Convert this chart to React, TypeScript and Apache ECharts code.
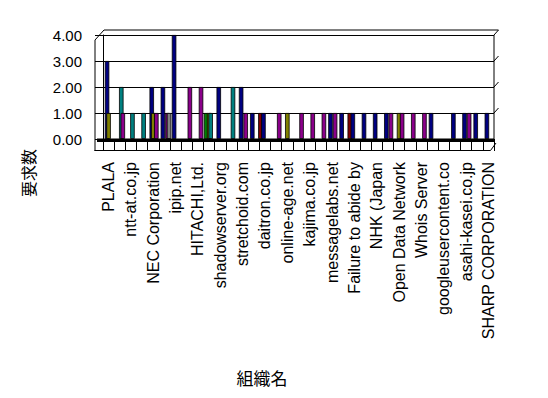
import React, { useEffect, useRef } from 'react';
import * as echarts from 'echarts';

const categories = [
  'PLALA', '', 'ntt-at.co.jp', '', 'NEC Corporation', '', 'ipip.net', '',
  'HITACHI,Ltd.', '', 'shadowserver.org', '', 'stretchoid.com', '', 'daitron.co.jp', '',
  'online-age.net', '', 'kajima.co.jp', '', 'messagelabs.net', '', 'Failure to abide by', '',
  'NHK (Japan', '', 'Open Data Network', '', 'Whois Server', '', 'googleusercontent.co', '',
  'asahi-kasei.co.jp', '', 'SHARP CORPORATION',
];

const yTicks = [0, 1, 2, 3, 4];

//             0    1    2    3    4    5    6    7    8    9   10   11   12   13   14   15   16   17   18   19   20   21   22   23   24   25   26   27   28   29   30   31   32   33   34
const seriesMaroon = [null, null, null, null, null, null, null, null, null, null, null, null, null, null, 1, null, null, null, null, null, null, null, 1, null, null, null, null, null, null, null, null, null, null, null, null];
const seriesGreen = [null, null, null, null, null, null, null, null, null, 1, null, null, null, null, null, null, null, null, null, null, null, null, null, null, null, null, null, null, null, null, null, null, null, null, null];
const seriesNavy = [3, null, null, null, 2, 2, 4, null, null, null, 2, null, 2, 1, 1, null, null, null, null, null, 1, 1, 1, 1, 1, 1, null, null, null, 1, null, 1, 1, 1, 1];
const seriesOlive = [1, null, null, null, 1, null, null, null, null, 1, null, null, null, null, null, null, 1, null, null, null, null, null, null, null, null, null, 1, null, null, null, null, null, null, null, null];
const seriesTeal = [null, 2, 1, 1, null, null, null, null, null, 1, null, 2, null, null, null, null, null, null, null, null, null, null, null, null, null, null, null, null, null, null, null, null, null, null, null];
const seriesPurple = [null, 1, null, null, 1, 1, null, 2, 2, null, null, null, 1, null, null, 1, null, 1, 1, 1, 1, null, null, null, null, 1, 1, 1, 1, null, null, null, 1, null, null];
const seriesGray = [null, null, null, null, null, 1, null, null, null, null, null, null, null, null, null, null, null, null, null, null, null, null, null, null, null, null, null, null, null, null, null, null, null, null, null];

const LATIN = "'Liberation Sans', Arial, 'Noto Sans CJK JP', sans-serif";
const CJK = "'Noto Sans CJK JP', sans-serif";

export default function App() {
  const ref = useRef<HTMLDivElement>(null);
  useEffect(() => {
    const chart = echarts.init(ref.current!, null, { renderer: 'svg' });
    const mk = (name: string, data: (number | null)[], color: string) => ({
      name,
      type: 'bar',
      data,
      barWidth: 4.5,
      barGap: '-66%',
      itemStyle: { color, borderColor: '#000', borderWidth: 0.8 },
    });
    const line = (x1: number, y1: number, x2: number, y2: number) => ({
      type: 'line',
      shape: { x1, y1, x2, y2 },
      style: { stroke: '#000', lineWidth: 1 },
      z: 100,
    });
    const rightStubs = [35, 61, 87, 113].map((y) => line(494, y, 498.5, y - 5));
    chart.setOption({
      animation: false,
      backgroundColor: '#fff',
      grid: { left: 103, right: 54, top: 35, bottom: 259, containLabel: false },
      xAxis: {
        type: 'category',
        data: categories,
        boundaryGap: true,
        axisLine: { show: false },
        axisTick: { show: true, length: 12, interval: 0, lineStyle: { color: '#000', width: 1 } },
        axisLabel: {
          interval: 0,
          rotate: 90,
          margin: 23,
          fontSize: 16,
          fontFamily: LATIN,
          color: '#000',
        },
        splitLine: { show: false },
      },
      yAxis: {
        type: 'value',
        min: 0,
        max: 4,
        interval: 1,
        axisLine: { show: true, lineStyle: { color: '#000', width: 1 } },
        axisTick: { show: true, length: 8, lineStyle: { color: '#000' } },
        axisLabel: {
          margin: 21,
          fontSize: 15,
          fontFamily: LATIN,
          color: '#000',
          padding: [8, 0, 0, 0],
          formatter: (v: number) => (yTicks.includes(v) ? v.toFixed(2) : ''),
        },
        splitLine: { show: true, lineStyle: { color: '#000', width: 1 } },
      },
      series: [
        mk('maroon', seriesMaroon, '#800000'),
        mk('green', seriesGreen, '#008000'),
        mk('navy', seriesNavy, '#000080'),
        mk('olive', seriesOlive, '#808000'),
        mk('teal', seriesTeal, '#008080'),
        mk('purple', seriesPurple, '#8a008a'),
        mk('gray', seriesGray, '#808080'),
      ],
      graphic: [
        // floor band
        { type: 'rect', shape: { x: 97, y: 138.5, width: 397, height: 3.5 }, style: { fill: '#000' }, z: 90 },
        // cells row frame
        line(94.5, 150.5, 490.5, 150.5),
        line(490.5, 150.5, 496, 143),
        // left front wall
        line(95, 40, 95, 151),
        line(95, 40, 104, 30),
        // top
        line(104, 30, 498.5, 30),
        // right wall
        line(494, 35, 494, 139),
        ...rightStubs,
        {
          type: 'text',
          x: 262,
          y: 377,
          style: { text: '組織名', font: `17px ${CJK}`, fill: '#000', align: 'center', verticalAlign: 'middle' },
          z: 100,
        },
        {
          type: 'text',
          x: 28,
          y: 173,
          rotation: Math.PI / 2,
          style: { text: '要求数', font: `16px ${CJK}`, fill: '#000', align: 'center', verticalAlign: 'middle' },
          z: 100,
        },
      ],
    });
    return () => chart.dispose();
  }, []);
  return <div ref={ref} style={{ position: 'absolute', left: 0, top: 0, width: 548, height: 398 }} />;
}
